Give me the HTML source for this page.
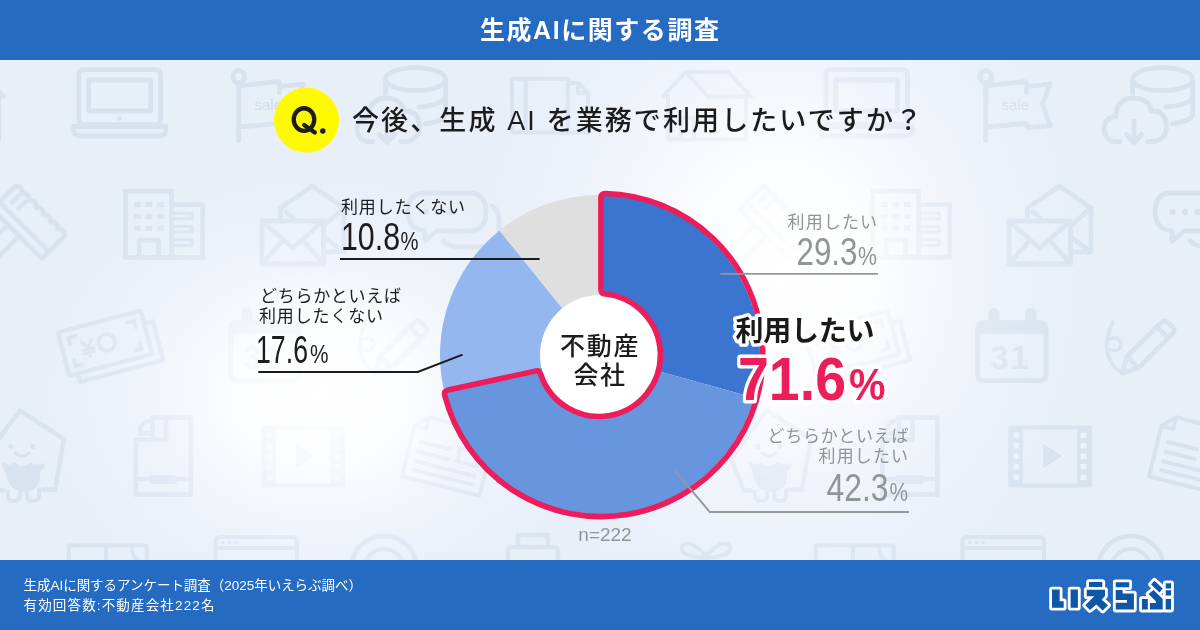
<!DOCTYPE html>
<html lang="ja"><head><meta charset="utf-8"><title>生成AIに関する調査</title>
<style>
html,body{margin:0;padding:0;background:#fff}
body{width:1200px;height:630px;overflow:hidden;font-family:"Liberation Sans","Noto Sans CJK JP",sans-serif}
svg{display:block}
</style></head><body>
<svg width="1200" height="630" viewBox="0 0 1200 630" font-family="'Liberation Sans', 'Noto Sans CJK JP', sans-serif">
<defs>
<radialGradient id="g1" cx="0" cy="0" r="1" gradientUnits="userSpaceOnUse" gradientTransform="translate(320 395) scale(290 230)"><stop offset="0" stop-color="#fff" stop-opacity="1"/><stop offset="0.3" stop-color="#fff" stop-opacity="0.86"/><stop offset="0.55" stop-color="#fff" stop-opacity="0.42"/><stop offset="0.8" stop-color="#fff" stop-opacity="0.1"/><stop offset="1" stop-color="#fff" stop-opacity="0"/></radialGradient>
<radialGradient id="g2" cx="0" cy="0" r="1" gradientUnits="userSpaceOnUse" gradientTransform="translate(780 275) scale(315 370)"><stop offset="0" stop-color="#fff" stop-opacity="1"/><stop offset="0.3" stop-color="#fff" stop-opacity="0.86"/><stop offset="0.55" stop-color="#fff" stop-opacity="0.42"/><stop offset="0.8" stop-color="#fff" stop-opacity="0.1"/><stop offset="1" stop-color="#fff" stop-opacity="0"/></radialGradient>
<radialGradient id="k1" cx="0" cy="0" r="1" gradientUnits="userSpaceOnUse" gradientTransform="translate(320 395) scale(362.5 287.5)"><stop offset="0" stop-color="#000" stop-opacity="0.95"/><stop offset="0.3" stop-color="#000" stop-opacity="0.817"/><stop offset="0.55" stop-color="#000" stop-opacity="0.399"/><stop offset="0.8" stop-color="#000" stop-opacity="0.095"/><stop offset="1" stop-color="#000" stop-opacity="0"/></radialGradient>
<radialGradient id="k2" cx="0" cy="0" r="1" gradientUnits="userSpaceOnUse" gradientTransform="translate(780 275) scale(378 444)"><stop offset="0" stop-color="#000" stop-opacity="0.95"/><stop offset="0.3" stop-color="#000" stop-opacity="0.817"/><stop offset="0.55" stop-color="#000" stop-opacity="0.399"/><stop offset="0.8" stop-color="#000" stop-opacity="0.095"/><stop offset="1" stop-color="#000" stop-opacity="0"/></radialGradient>
<mask id="im" maskUnits="userSpaceOnUse" x="0" y="0" width="1200" height="630"><rect width="1200" height="630" fill="#fff"/><rect width="1200" height="630" fill="url(#k1)"/><rect width="1200" height="630" fill="url(#k2)"/></mask>
</defs>
<rect x="0" y="0" width="1200" height="630" fill="#e8eff9"/>
<rect x="0" y="0" width="1200" height="630" fill="url(#g1)"/>
<rect x="0" y="0" width="1200" height="630" fill="url(#g2)"/>
<g id="icons" mask="url(#im)"><g transform="translate(0 0)"><path d="M84 69.7H155.5Q160.5 69.7 160.5 74.7V119.6Q160.5 124.6 155.5 124.6H84Q79 124.6 79 119.6V74.7Q79 69.7 84 69.7ZM89.6 80H149.7Q150.7 80 150.7 81V110Q150.7 111 149.7 111H89.6Q88.6 111 88.6 110V81Q88.6 80 89.6 80Z" fill="none" stroke="#d8e1ee" stroke-width="4.8" stroke-linecap="round" stroke-linejoin="round"/><path d="M73.6 126.5H165.7V130Q165.7 136 159 136H80Q73.6 136 73.6 130Z" fill="none" stroke="#d8e1ee" stroke-width="4.8" stroke-linecap="round" stroke-linejoin="round"/><circle cx="119.5" cy="118.6" r="2.4" fill="#d8e1ee"/></g>
<g transform="translate(747 0)"><path d="M84 69.7H155.5Q160.5 69.7 160.5 74.7V119.6Q160.5 124.6 155.5 124.6H84Q79 124.6 79 119.6V74.7Q79 69.7 84 69.7ZM89.6 80H149.7Q150.7 80 150.7 81V110Q150.7 111 149.7 111H89.6Q88.6 111 88.6 110V81Q88.6 80 89.6 80Z" fill="none" stroke="#d8e1ee" stroke-width="4.8" stroke-linecap="round" stroke-linejoin="round"/><path d="M73.6 126.5H165.7V130Q165.7 136 159 136H80Q73.6 136 73.6 130Z" fill="none" stroke="#d8e1ee" stroke-width="4.8" stroke-linecap="round" stroke-linejoin="round"/><circle cx="119.5" cy="118.6" r="2.4" fill="#d8e1ee"/></g>
<g transform="translate(0 0)"><path d="M985.7 84V140.5" fill="none" stroke="#d8e1ee" stroke-width="5" stroke-linecap="round" stroke-linejoin="round"/><circle cx="985.7" cy="76.7" r="5.9" fill="none" stroke="#d8e1ee" stroke-width="5"/><path d="M988 85.7L1024.4 81.6Q1026.5 81.6 1026.5 84.5V92.7M1028.5 86.4L1050.2 84.1L1042.5 103.9L1050.2 125.5L1028.5 127.6Q1027 124 1025 123.5L988 126.9" fill="none" stroke="#d8e1ee" stroke-width="4.8" stroke-linecap="round" stroke-linejoin="round"/><text x="1001.5" y="110.2" font-size="15" fill="#d3dcea">sale</text></g>
<g transform="translate(-747 0)"><path d="M985.7 84V140.5" fill="none" stroke="#d8e1ee" stroke-width="5" stroke-linecap="round" stroke-linejoin="round"/><circle cx="985.7" cy="76.7" r="5.9" fill="none" stroke="#d8e1ee" stroke-width="5"/><path d="M988 85.7L1024.4 81.6Q1026.5 81.6 1026.5 84.5V92.7M1028.5 86.4L1050.2 84.1L1042.5 103.9L1050.2 125.5L1028.5 127.6Q1027 124 1025 123.5L988 126.9" fill="none" stroke="#d8e1ee" stroke-width="4.8" stroke-linecap="round" stroke-linejoin="round"/><text x="1001.5" y="110.2" font-size="15" fill="#d3dcea">sale</text></g>
<g transform="translate(0 0)"><path d="M1132.6 79.2A30 11.5 0 1 1 1192.6 79.2A30 11.5 0 1 1 1132.6 79.2ZM1132.6 79.2V93M1192.6 79.2V114Q1192 121 1172 124M1192.6 97Q1190 105 1166 107" fill="none" stroke="#d8e1ee" stroke-width="4.8" stroke-linecap="round" stroke-linejoin="round"/><path d="M1120 141.5H1115Q1104 140 1104 128.5Q1104 118 1116 116.5Q1116 99 1133 98Q1148 98 1151.5 111Q1165.5 110.5 1166.5 125.5Q1166.5 140 1153 141.5H1148" fill="none" stroke="#d8e1ee" stroke-width="4.8" stroke-linecap="round" stroke-linejoin="round"/><path d="M1134 121V141M1126.5 134.5L1134 142.5L1141.5 134.5" fill="none" stroke="#d8e1ee" stroke-width="4.8" stroke-linecap="round" stroke-linejoin="round"/></g>
<g transform="translate(-747 0)"><path d="M1132.6 79.2A30 11.5 0 1 1 1192.6 79.2A30 11.5 0 1 1 1132.6 79.2ZM1132.6 79.2V93M1192.6 79.2V114Q1192 121 1172 124M1192.6 97Q1190 105 1166 107" fill="none" stroke="#d8e1ee" stroke-width="4.8" stroke-linecap="round" stroke-linejoin="round"/><path d="M1120 141.5H1115Q1104 140 1104 128.5Q1104 118 1116 116.5Q1116 99 1133 98Q1148 98 1151.5 111Q1165.5 110.5 1166.5 125.5Q1166.5 140 1153 141.5H1148" fill="none" stroke="#d8e1ee" stroke-width="4.8" stroke-linecap="round" stroke-linejoin="round"/><path d="M1134 121V141M1126.5 134.5L1134 142.5L1141.5 134.5" fill="none" stroke="#d8e1ee" stroke-width="4.8" stroke-linecap="round" stroke-linejoin="round"/></g>
<g transform="translate(0 0)"><path d="M514 78.7H565.8Q567.8 78.7 567.8 80.7V130.4Q567.8 132.4 565.8 132.4H514Q512 132.4 512 130.4V80.7Q512 78.7 514 78.7ZM525.6 79V132M567.8 83H578L588 93V132.4H567.8M578 83V93H588" fill="none" stroke="#d8e1ee" stroke-width="4" stroke-linecap="round" stroke-linejoin="round"/></g>
<g transform="translate(0 0)"><path d="M663 96.5L685.6 72L708 96.5M685.6 72H728L751 96.5H708M668 96V139.5H746V97M681 139V118H694V139" fill="none" stroke="#d8e1ee" stroke-width="4" stroke-linecap="round" stroke-linejoin="round"/></g>
<g transform="translate(-747 0)"><path d="M663 96.5L685.6 72L708 96.5M685.6 72H728L751 96.5H708M668 96V139.5H746V97M681 139V118H694V139" fill="none" stroke="#d8e1ee" stroke-width="4" stroke-linecap="round" stroke-linejoin="round"/></g>
<g transform="translate(0 0)"><g transform="translate(27 224) rotate(45)"><path d="M-35 14V-18q5 -6 10 0q5 -6 10 0q5 -6 10 0q5 -6 10 0q5 -6 10 0q5 -6 10 0q5 -6 10 0V14ZM-35 4H35M-26 -14V-5M-17 -14V-5M-13 14V66M3 14V66" fill="none" stroke="#d8e1ee" stroke-width="4.8" stroke-linecap="round" stroke-linejoin="round"/></g></g>
<g transform="translate(747 0)"><g transform="translate(27 224) rotate(45)"><path d="M-35 14V-18q5 -6 10 0q5 -6 10 0q5 -6 10 0q5 -6 10 0q5 -6 10 0q5 -6 10 0q5 -6 10 0V14ZM-35 4H35M-26 -14V-5M-17 -14V-5M-13 14V66M3 14V66" fill="none" stroke="#d8e1ee" stroke-width="4.8" stroke-linecap="round" stroke-linejoin="round"/></g></g>
<g transform="translate(0 0)"><path d="M125.5 191.2H171.6V257.4H125.5ZM174 204.5H202.7V257.4H171.6M139.2 257.4V240.2H158.4V257.4" fill="none" stroke="#d8e1ee" stroke-width="4.7" stroke-linecap="round" stroke-linejoin="round"/><path d="M134 202.1h6.7v5h-6.7zM145.4 202.1h6.7v5h-6.7zM157.1 202.1h6.7v5h-6.7zM134 214h6.7v5h-6.7zM145.4 214h6.7v5h-6.7zM157.1 214h6.7v5h-6.7zM134 225.7h6.7v5h-6.7zM145.4 225.7h6.7v5h-6.7zM157.1 225.7h6.7v5h-6.7z" fill="#d8e1ee"/><path d="M174 213.2H192.2V218.8H174M174 226.5H192.2V232.1H174M174 239.8H192.2V245.4H174" fill="none" stroke="#d8e1ee" stroke-width="3" stroke-linecap="round" stroke-linejoin="round"/></g>
<g transform="translate(747 0)"><path d="M125.5 191.2H171.6V257.4H125.5ZM174 204.5H202.7V257.4H171.6M139.2 257.4V240.2H158.4V257.4" fill="none" stroke="#d8e1ee" stroke-width="4.7" stroke-linecap="round" stroke-linejoin="round"/><path d="M134 202.1h6.7v5h-6.7zM145.4 202.1h6.7v5h-6.7zM157.1 202.1h6.7v5h-6.7zM134 214h6.7v5h-6.7zM145.4 214h6.7v5h-6.7zM157.1 214h6.7v5h-6.7zM134 225.7h6.7v5h-6.7zM145.4 225.7h6.7v5h-6.7zM157.1 225.7h6.7v5h-6.7z" fill="#d8e1ee"/><path d="M174 213.2H192.2V218.8H174M174 226.5H192.2V232.1H174M174 239.8H192.2V245.4H174" fill="none" stroke="#d8e1ee" stroke-width="3" stroke-linecap="round" stroke-linejoin="round"/></g>
<g transform="translate(0 0)"><path d="M1009 221H1070.5V264H1009ZM1009 221L1039.7 248L1070.5 221M1009 264L1030 240M1070.5 264L1049.5 240" fill="none" stroke="#d8e1ee" stroke-width="4.8" stroke-linecap="round" stroke-linejoin="round"/><path d="M1027.5 219V208L1059.6 186L1091 208V252H1072.5M1033 212L1041 219M1091 208L1072.5 224M1072.5 238L1089 251" fill="none" stroke="#d8e1ee" stroke-width="4.8" stroke-linecap="round" stroke-linejoin="round"/></g>
<g transform="translate(-747 0)"><path d="M1009 221H1070.5V264H1009ZM1009 221L1039.7 248L1070.5 221M1009 264L1030 240M1070.5 264L1049.5 240" fill="none" stroke="#d8e1ee" stroke-width="4.8" stroke-linecap="round" stroke-linejoin="round"/><path d="M1027.5 219V208L1059.6 186L1091 208V252H1072.5M1033 212L1041 219M1091 208L1072.5 224M1072.5 238L1089 251" fill="none" stroke="#d8e1ee" stroke-width="4.8" stroke-linecap="round" stroke-linejoin="round"/></g>
<g transform="translate(0 0)"><path d="M1172 193H1215Q1233 193 1233 212Q1233 231 1215 231H1184L1172 241V231Q1155 229 1155 212Q1155 193 1172 193Z" fill="none" stroke="#d8e1ee" stroke-width="4.8" stroke-linecap="round" stroke-linejoin="round"/><path d="M1172.5 212m-3.2 0a3.2 3.2 0 1 0 6.4 0a3.2 3.2 0 1 0 -6.4 0M1185 212m-3.2 0a3.2 3.2 0 1 0 6.4 0a3.2 3.2 0 1 0 -6.4 0M1197.5 212m-3.2 0a3.2 3.2 0 1 0 6.4 0a3.2 3.2 0 1 0 -6.4 0" fill="#d8e1ee"/><path d="M1190 241Q1196 247 1210 247H1228Q1246 247 1246 230V220Q1246 211 1239 206" fill="none" stroke="#d8e1ee" stroke-width="4.8" stroke-linecap="round" stroke-linejoin="round"/></g>
<g transform="translate(-747 0)"><path d="M1172 193H1215Q1233 193 1233 212Q1233 231 1215 231H1184L1172 241V231Q1155 229 1155 212Q1155 193 1172 193Z" fill="none" stroke="#d8e1ee" stroke-width="4.8" stroke-linecap="round" stroke-linejoin="round"/><path d="M1172.5 212m-3.2 0a3.2 3.2 0 1 0 6.4 0a3.2 3.2 0 1 0 -6.4 0M1185 212m-3.2 0a3.2 3.2 0 1 0 6.4 0a3.2 3.2 0 1 0 -6.4 0M1197.5 212m-3.2 0a3.2 3.2 0 1 0 6.4 0a3.2 3.2 0 1 0 -6.4 0" fill="#d8e1ee"/><path d="M1190 241Q1196 247 1210 247H1228Q1246 247 1246 230V220Q1246 211 1239 206" fill="none" stroke="#d8e1ee" stroke-width="4.8" stroke-linecap="round" stroke-linejoin="round"/></g>
<g transform="translate(0 0)"><g transform="translate(105 343.3) rotate(-14.7)"><path d="M-40.8 -22.5H40.8Q42.8 -22.5 42.8 -20.5V20.5Q42.8 22.5 40.8 22.5H-40.8Q-42.8 22.5 -42.8 20.5V-20.5Q-42.8 -22.5 -40.8 -22.5ZM-34 24.5V31H52V-9H45" fill="none" stroke="#d8e1ee" stroke-width="4.4" stroke-linecap="round" stroke-linejoin="round"/><path d="M-34 -8V-14.5H-27M27 -14.5H34V-8M-34 8V14.5H-27M27 14.5H34V8" fill="none" stroke="#d8e1ee" stroke-width="4" stroke-linecap="round" stroke-linejoin="round"/><circle cx="2" cy="-0.5" r="8.3" fill="none" stroke="#d8e1ee" stroke-width="3.8"/><path d="M-22.5 -7L-17.5 0.5L-12.5 -7M-17.5 0.5V8.5M-22.5 1.5H-12.5M-22.5 5H-12.5" fill="none" stroke="#d8e1ee" stroke-width="3" stroke-linecap="round" stroke-linejoin="round"/></g></g>
<g transform="translate(747 0)"><g transform="translate(105 343.3) rotate(-14.7)"><path d="M-40.8 -22.5H40.8Q42.8 -22.5 42.8 -20.5V20.5Q42.8 22.5 40.8 22.5H-40.8Q-42.8 22.5 -42.8 20.5V-20.5Q-42.8 -22.5 -40.8 -22.5ZM-34 24.5V31H52V-9H45" fill="none" stroke="#d8e1ee" stroke-width="4.4" stroke-linecap="round" stroke-linejoin="round"/><path d="M-34 -8V-14.5H-27M27 -14.5H34V-8M-34 8V14.5H-27M27 14.5H34V8" fill="none" stroke="#d8e1ee" stroke-width="4" stroke-linecap="round" stroke-linejoin="round"/><circle cx="2" cy="-0.5" r="8.3" fill="none" stroke="#d8e1ee" stroke-width="3.8"/><path d="M-22.5 -7L-17.5 0.5L-12.5 -7M-17.5 0.5V8.5M-22.5 1.5H-12.5M-22.5 5H-12.5" fill="none" stroke="#d8e1ee" stroke-width="3" stroke-linecap="round" stroke-linejoin="round"/></g></g>
<g transform="translate(0 0)"><path d="M983.7 322.7H1040Q1046 322.7 1046 328.7V374.6Q1046 380.6 1040 380.6H983.7Q977.7 380.6 977.7 374.6V328.7Q977.7 322.7 983.7 322.7Z" fill="none" stroke="#d8e1ee" stroke-width="4.8" stroke-linecap="round" stroke-linejoin="round"/><path d="M977.7 322H1046V333.7H977.7Z" fill="#d8e1ee"/><path d="M993.9 308H993.9Q999.4 308 999.4 313.5V325.5Q999.4 331 993.9 331H993.9Q988.4 331 988.4 325.5V313.5Q988.4 308 993.9 308ZM1030.9 308H1030.9Q1036.4 308 1036.4 313.5V325.5Q1036.4 331 1030.9 331H1030.9Q1025.4 331 1025.4 325.5V313.5Q1025.4 308 1030.9 308Z" fill="#d8e1ee"/><text x="990" y="368.5" font-size="34" font-weight="bold" fill="#d8e1ee" textLength="39" lengthAdjust="spacing">31</text></g>
<g transform="translate(-747 0)"><path d="M983.7 322.7H1040Q1046 322.7 1046 328.7V374.6Q1046 380.6 1040 380.6H983.7Q977.7 380.6 977.7 374.6V328.7Q977.7 322.7 983.7 322.7Z" fill="none" stroke="#d8e1ee" stroke-width="4.8" stroke-linecap="round" stroke-linejoin="round"/><path d="M977.7 322H1046V333.7H977.7Z" fill="#d8e1ee"/><path d="M993.9 308H993.9Q999.4 308 999.4 313.5V325.5Q999.4 331 993.9 331H993.9Q988.4 331 988.4 325.5V313.5Q988.4 308 993.9 308ZM1030.9 308H1030.9Q1036.4 308 1036.4 313.5V325.5Q1036.4 331 1030.9 331H1030.9Q1025.4 331 1025.4 325.5V313.5Q1025.4 308 1030.9 308Z" fill="#d8e1ee"/><text x="990" y="368.5" font-size="34" font-weight="bold" fill="#d8e1ee" textLength="39" lengthAdjust="spacing">31</text></g>
<g transform="translate(0 0)"><g transform="translate(1145.5 349.5) rotate(45)"><path d="M-8 -30Q-8 -35 -3 -35H3Q8 -35 8 -30V18L0 33L-8 18ZM-8 -24H8M-8 18H8" fill="none" stroke="#d8e1ee" stroke-width="4.8" stroke-linecap="round" stroke-linejoin="round"/></g><path d="M1113 322Q1102 345 1110 360Q1114 368 1121 372M1108 340Q1118 335 1121 343Q1122 352 1110 350" fill="none" stroke="#d8e1ee" stroke-width="3.6" stroke-linecap="round" stroke-linejoin="round"/></g>
<g transform="translate(-747 0)"><g transform="translate(1145.5 349.5) rotate(45)"><path d="M-8 -30Q-8 -35 -3 -35H3Q8 -35 8 -30V18L0 33L-8 18ZM-8 -24H8M-8 18H8" fill="none" stroke="#d8e1ee" stroke-width="4.8" stroke-linecap="round" stroke-linejoin="round"/></g><path d="M1113 322Q1102 345 1110 360Q1114 368 1121 372M1108 340Q1118 335 1121 343Q1122 352 1110 350" fill="none" stroke="#d8e1ee" stroke-width="3.6" stroke-linecap="round" stroke-linejoin="round"/></g>
<g transform="translate(0 0)"><path d="M4 490.5H-3.2L-15.8 458.8L19.6 410.5L64 439L55 489.5H43" fill="none" stroke="#d8e1ee" stroke-width="4.5" stroke-linecap="round" stroke-linejoin="round"/><path d="M11 446.6m-2.6 0a2.6 2.6 0 1 0 5.2 0a2.6 2.6 0 1 0 -5.2 0M33 446.6m-2.6 0a2.6 2.6 0 1 0 5.2 0a2.6 2.6 0 1 0 -5.2 0" fill="#d8e1ee"/><path d="M15 453Q22 459 29 453" fill="none" stroke="#d8e1ee" stroke-width="3" stroke-linecap="round" stroke-linejoin="round"/><path d="M5 470Q0 465 3 461Q10 468 14 462Q22 470 31 462Q35 467 44 463Q47 467 40 471Q42 490 25 492Q8 492 5 470Z" fill="#d8e1ee"/><path d="M8 492V496Q8 501 14 501Q20 501 20 496V492M27 492V496Q27 501 33 501Q39 501 39 496V490" fill="none" stroke="#d8e1ee" stroke-width="4" stroke-linecap="round" stroke-linejoin="round"/></g>
<g transform="translate(747 0)"><path d="M4 490.5H-3.2L-15.8 458.8L19.6 410.5L64 439L55 489.5H43" fill="none" stroke="#d8e1ee" stroke-width="4.5" stroke-linecap="round" stroke-linejoin="round"/><path d="M11 446.6m-2.6 0a2.6 2.6 0 1 0 5.2 0a2.6 2.6 0 1 0 -5.2 0M33 446.6m-2.6 0a2.6 2.6 0 1 0 5.2 0a2.6 2.6 0 1 0 -5.2 0" fill="#d8e1ee"/><path d="M15 453Q22 459 29 453" fill="none" stroke="#d8e1ee" stroke-width="3" stroke-linecap="round" stroke-linejoin="round"/><path d="M5 470Q0 465 3 461Q10 468 14 462Q22 470 31 462Q35 467 44 463Q47 467 40 471Q42 490 25 492Q8 492 5 470Z" fill="#d8e1ee"/><path d="M8 492V496Q8 501 14 501Q20 501 20 496V492M27 492V496Q27 501 33 501Q39 501 39 496V490" fill="none" stroke="#d8e1ee" stroke-width="4" stroke-linecap="round" stroke-linejoin="round"/></g>
<g transform="translate(0 0)"><path d="M152.5 417.7H190.9V494.7H135.9V439.5H166V417.7M152.5 417.7V439.5M139.5 433.5Q139.5 421 152.5 420.5M139.5 433.5H152.5M135.9 479H190.9" fill="none" stroke="#d8e1ee" stroke-width="4.7" stroke-linecap="round" stroke-linejoin="round"/><path d="M152.5 476.5H174Q176 476.5 176 478.5V480.5Q176 482.5 174 482.5H152.5Q150.5 482.5 150.5 480.5V478.5Q150.5 476.5 152.5 476.5Z" fill="none" stroke="#d8e1ee" stroke-width="3" stroke-linecap="round" stroke-linejoin="round"/></g>
<g transform="translate(746.5 0)"><path d="M152.5 417.7H190.9V494.7H135.9V439.5H166V417.7M152.5 417.7V439.5M139.5 433.5Q139.5 421 152.5 420.5M139.5 433.5H152.5M135.9 479H190.9" fill="none" stroke="#d8e1ee" stroke-width="4.7" stroke-linecap="round" stroke-linejoin="round"/><path d="M152.5 476.5H174Q176 476.5 176 478.5V480.5Q176 482.5 174 482.5H152.5Q150.5 482.5 150.5 480.5V478.5Q150.5 476.5 152.5 476.5Z" fill="none" stroke="#d8e1ee" stroke-width="3" stroke-linecap="round" stroke-linejoin="round"/></g>
<g transform="translate(0 0)"><path d="M1010.2 427.5H1090V485.4H1010.2Z" fill="none" stroke="#d8e1ee" stroke-width="4" stroke-linecap="round" stroke-linejoin="round"/><path d="M1010.2 427.5H1023V485.4H1010.2ZM1077.2 427.5H1090V485.4H1077.2Z" fill="#d8e1ee"/><path d="M1013.6 432.5h5.6v5.4h-5.6zM1080.8 432.5h5.6v5.4h-5.6zM1013.6 443h5.6v5.4h-5.6zM1080.8 443h5.6v5.4h-5.6zM1013.6 453.5h5.6v5.4h-5.6zM1080.8 453.5h5.6v5.4h-5.6zM1013.6 464h5.6v5.4h-5.6zM1080.8 464h5.6v5.4h-5.6zM1013.6 474.5h5.6v5.4h-5.6zM1080.8 474.5h5.6v5.4h-5.6z" fill="#edf2fa"/><path d="M1043 443.5V468.5L1062 456Z" fill="#d8e1ee"/></g>
<g transform="translate(-747 0)"><path d="M1010.2 427.5H1090V485.4H1010.2Z" fill="none" stroke="#d8e1ee" stroke-width="4" stroke-linecap="round" stroke-linejoin="round"/><path d="M1010.2 427.5H1023V485.4H1010.2ZM1077.2 427.5H1090V485.4H1077.2Z" fill="#d8e1ee"/><path d="M1013.6 432.5h5.6v5.4h-5.6zM1080.8 432.5h5.6v5.4h-5.6zM1013.6 443h5.6v5.4h-5.6zM1080.8 443h5.6v5.4h-5.6zM1013.6 453.5h5.6v5.4h-5.6zM1080.8 453.5h5.6v5.4h-5.6zM1013.6 464h5.6v5.4h-5.6zM1080.8 464h5.6v5.4h-5.6zM1013.6 474.5h5.6v5.4h-5.6zM1080.8 474.5h5.6v5.4h-5.6z" fill="#edf2fa"/><path d="M1043 443.5V468.5L1062 456Z" fill="#d8e1ee"/></g>
<g transform="translate(0 0)"><g transform="translate(1195 457) rotate(14)"><path d="M-40 -22L-28 -34H40V30H-40ZM-40 -22H-28V-34M-30 -8H0M-30 2H0M-30 12H30M-30 21H30M10 -12H30V2H10Z" fill="none" stroke="#d8e1ee" stroke-width="4" stroke-linecap="round" stroke-linejoin="round"/></g></g>
<g transform="translate(-747 0)"><g transform="translate(1195 457) rotate(14)"><path d="M-40 -22L-28 -34H40V30H-40ZM-40 -22H-28V-34M-30 -8H0M-30 2H0M-30 12H30M-30 21H30M10 -12H30V2H10Z" fill="none" stroke="#d8e1ee" stroke-width="4" stroke-linecap="round" stroke-linejoin="round"/></g></g>
<g transform="translate(0 0)"><path d="M68.8 562V545.6H146.8V562M106 545.6V562M132 548Q132 556 138 560" fill="none" stroke="#d8e1ee" stroke-width="4" stroke-linecap="round" stroke-linejoin="round"/><path d="M220.5 537H292Q297 537 297 542V570Q297 575 292 575H220.5Q215.5 575 215.5 570V542Q215.5 537 220.5 537ZM215.5 548H297" fill="none" stroke="#d8e1ee" stroke-width="4" stroke-linecap="round" stroke-linejoin="round"/><path d="M223 542.5m-1.8 0a1.8 1.8 0 1 0 3.6 0a1.8 1.8 0 1 0 -3.6 0M229.5 542.5m-1.8 0a1.8 1.8 0 1 0 3.6 0a1.8 1.8 0 1 0 -3.6 0M236 542.5m-1.8 0a1.8 1.8 0 1 0 3.6 0a1.8 1.8 0 1 0 -3.6 0" fill="#d8e1ee"/><circle cx="384" cy="569" r="33" fill="none" stroke="#d8e1ee" stroke-width="4.5"/><circle cx="384" cy="569" r="20" fill="none" stroke="#d8e1ee" stroke-width="4"/></g>
<g transform="translate(747 0)"><path d="M68.8 562V545.6H146.8V562M106 545.6V562M132 548Q132 556 138 560" fill="none" stroke="#d8e1ee" stroke-width="4" stroke-linecap="round" stroke-linejoin="round"/><path d="M220.5 537H292Q297 537 297 542V570Q297 575 292 575H220.5Q215.5 575 215.5 570V542Q215.5 537 220.5 537ZM215.5 548H297" fill="none" stroke="#d8e1ee" stroke-width="4" stroke-linecap="round" stroke-linejoin="round"/><path d="M223 542.5m-1.8 0a1.8 1.8 0 1 0 3.6 0a1.8 1.8 0 1 0 -3.6 0M229.5 542.5m-1.8 0a1.8 1.8 0 1 0 3.6 0a1.8 1.8 0 1 0 -3.6 0M236 542.5m-1.8 0a1.8 1.8 0 1 0 3.6 0a1.8 1.8 0 1 0 -3.6 0" fill="#d8e1ee"/><circle cx="384" cy="569" r="33" fill="none" stroke="#d8e1ee" stroke-width="4.5"/><circle cx="384" cy="569" r="20" fill="none" stroke="#d8e1ee" stroke-width="4"/></g>
<g transform="translate(0 0)"><path d="M508 562V552Q508 547 513 547H553Q558 547 558 552V562M518 547V535H548V547" fill="none" stroke="#d8e1ee" stroke-width="4.5" stroke-linecap="round" stroke-linejoin="round"/><path d="M706 556Q690 538 682 546Q678 556 706 558Q734 556 730 546Q722 538 706 556" fill="none" stroke="#d8e1ee" stroke-width="4" stroke-linecap="round" stroke-linejoin="round"/></g></g>
<rect x="0" y="0" width="1200" height="60" fill="#246bc1"/>
<rect x="0" y="560" width="1200" height="70" fill="#246bc1"/>
<text x="480" y="39.3" font-size="25" font-weight="bold" fill="#fff" textLength="239" lengthAdjust="spacing">生成AIに関する調査</text>
<circle cx="306.5" cy="120.2" r="32.5" fill="#fffa00"/>
<g fill="none" stroke="#1e1e1e" stroke-width="4.3" stroke-linecap="round"><ellipse cx="304" cy="119.55" rx="10.25" ry="11.3"/><path d="M304.2 125L314.8 132.4"/></g><circle cx="322.8" cy="131.1" r="2.75" fill="#1e1e1e"/>
<text x="352" y="129.5" font-size="27" font-weight="500" fill="#1c1c1c" textLength="570" lengthAdjust="spacing">今後、生成 AI を業務で利用したいですか？</text>
<path d="M600.00 355.00L600.00 195.00A160 160 0 0 1 754.20 397.70Z" fill="#3c75cf"/>
<path d="M600.00 355.00L754.20 397.70A160 160 0 0 1 443.64 388.92Z" fill="#6795de"/>
<path d="M600.00 355.00L443.64 388.92A160 160 0 0 1 499.57 230.45Z" fill="#95b7ef"/>
<path d="M600.00 355.00L499.57 230.45A160 160 0 0 1 600.00 195.00Z" fill="#dfdfdf"/>
<circle cx="600" cy="355" r="60" fill="#fff"/>
<path d="M600.90 197.90Q600.90 193.40 605.40 193.45A161.6 161.6 0 1 1 444.72 395.34Q443.65 390.96 448.05 390.01L535.11 371.12Q539.50 370.17 540.77 374.49A61.4 61.4 0 1 0 605.39 293.93Q600.90 293.63 600.90 289.13Z" fill="none" stroke="#ec1d5a" stroke-width="5.6" stroke-linejoin="round"/>
<path d="M340 259H539.6" stroke="#1a1a1a" stroke-width="2" fill="none"/>
<path d="M258.3 372H417.8L462.6 354.6" stroke="#1a1a1a" stroke-width="2" fill="none"/>
<path d="M720.3 273.9H878" stroke="#939898" stroke-width="1.9" fill="none"/>
<path d="M674.7 470.3L709.8 512H909" stroke="#939898" stroke-width="1.9" fill="none"/>
<text x="341" y="212.5" font-size="17" fill="#1c1c1c" textLength="124" lengthAdjust="spacing">利用したくない</text>
<text x="260" y="302.3" font-size="17" fill="#1c1c1c" textLength="141" lengthAdjust="spacing">どちらかといえば</text>
<text x="259" y="322.2" font-size="17" fill="#1c1c1c" textLength="124" lengthAdjust="spacing">利用したくない</text>
<text x="341" y="250.1" font-size="38" fill="#1c1c1c" textLength="59" lengthAdjust="spacingAndGlyphs">10.8</text>
<text x="400.5" y="250.1" font-size="26" fill="#1c1c1c" textLength="18" lengthAdjust="spacingAndGlyphs">%</text>
<text x="256" y="362.9" font-size="38" fill="#1c1c1c" textLength="52" lengthAdjust="spacingAndGlyphs">17.6</text>
<text x="310" y="362.9" font-size="26" fill="#1c1c1c" textLength="18.5" lengthAdjust="spacingAndGlyphs">%</text>
<text x="787.5" y="227.7" font-size="17" fill="#909595" textLength="89.5" lengthAdjust="spacing">利用したい</text>
<text x="767.5" y="441.7" font-size="17" fill="#909595" textLength="141" lengthAdjust="spacing">どちらかといえば</text>
<text x="818.5" y="462.4" font-size="17" fill="#909595" textLength="89.5" lengthAdjust="spacing">利用したい</text>
<text x="796.5" y="264.8" font-size="38" fill="#909595" textLength="61" lengthAdjust="spacingAndGlyphs">29.3</text>
<text x="858" y="264.8" font-size="26" fill="#909595" textLength="19" lengthAdjust="spacingAndGlyphs">%</text>
<text x="826.5" y="500.8" font-size="38" fill="#909595" textLength="62" lengthAdjust="spacingAndGlyphs">42.3</text>
<text x="889.5" y="500.8" font-size="26" fill="#909595" textLength="18.5" lengthAdjust="spacingAndGlyphs">%</text>
<text x="605" y="541" font-size="19" fill="#909595" text-anchor="middle">n=222</text>
<text x="735.5" y="341" font-size="28" font-weight="bold" fill="#1a1a1a" stroke="#fff" stroke-width="6.8" stroke-linejoin="round" paint-order="stroke" textLength="139" lengthAdjust="spacing">利用したい</text>
<text x="738" y="399.9" font-size="61" font-weight="bold" fill="#ec1d5a" stroke="#fff" stroke-width="7" stroke-linejoin="round" paint-order="stroke" textLength="108" lengthAdjust="spacingAndGlyphs">71.6</text>
<text x="849" y="399.9" font-size="44" font-weight="bold" fill="#ec1d5a" stroke="#fff" stroke-width="7" stroke-linejoin="round" paint-order="stroke" textLength="36.5" lengthAdjust="spacingAndGlyphs">%</text>
<text x="560" y="355" font-size="25" font-weight="500" fill="#1c1c1c" textLength="78.5" lengthAdjust="spacing">不動産</text>
<text x="573.5" y="383.6" font-size="25" font-weight="500" fill="#1c1c1c" textLength="51.5" lengthAdjust="spacing">会社</text>
<text x="23.5" y="590.2" font-size="13.5" fill="#fff" textLength="338.5" lengthAdjust="spacing">生成AIに関するアンケート調査（2025年いえらぶ調べ）</text>
<text x="23.5" y="610.3" font-size="13.5" fill="#fff" textLength="191" lengthAdjust="spacing">有効回答数:不動産会社222名</text>
<path d="M1052.0 589.5L1059.7 589.5L1059.7 601.2L1063.7 601.2L1063.7 607.8L1052.0 607.8ZM1070.6 589.5L1077.9 589.5L1077.9 607.8L1070.6 607.8ZM1089.0 582.0L1102.3 582.0L1102.3 587.0L1089.0 587.0ZM1086.7 589.7L1105.0 589.7L1105.0 596.0L1101.7 599.7L1108.0 605.2L1102.7 610.5L1096.3 604.5L1090.0 609.9L1085.3 605.2L1094.3 596.3L1086.7 596.3ZM1115.7 582.2L1129.2 582.2L1129.2 587.3L1115.7 587.3ZM1115.7 589.9L1122.6 589.9L1122.6 593.5L1133.9 593.5L1133.9 609.6L1115.7 609.6L1115.7 602.7L1127.0 602.7L1127.0 600.1L1115.7 600.1ZM1141.9 599.0L1147.8 599.0L1147.8 609.6L1141.9 609.6ZM1153.6 589.9L1162.7 599.0L1162.7 609.6L1150.0 609.6L1150.0 603.0L1155.8 603.0L1155.8 601.2L1148.5 593.9ZM1154.4 580.8L1162.7 588.4L1159.5 592.4L1151.1 584.4ZM1165.7 583.3L1171.1 583.3L1171.1 588.4L1165.7 588.4ZM1165.7 590.2L1171.1 590.2L1171.1 595.4L1165.7 595.4ZM1165.7 599.0L1171.1 599.0L1171.1 609.6L1165.7 609.6Z" fill="#fff" stroke="#fff" stroke-width="5.6" stroke-linejoin="round"/>
<path d="M1052.0 589.5L1059.7 589.5L1059.7 601.2L1063.7 601.2L1063.7 607.8L1052.0 607.8ZM1070.6 589.5L1077.9 589.5L1077.9 607.8L1070.6 607.8ZM1089.0 582.0L1102.3 582.0L1102.3 587.0L1089.0 587.0ZM1086.7 589.7L1105.0 589.7L1105.0 596.0L1101.7 599.7L1108.0 605.2L1102.7 610.5L1096.3 604.5L1090.0 609.9L1085.3 605.2L1094.3 596.3L1086.7 596.3ZM1115.7 582.2L1129.2 582.2L1129.2 587.3L1115.7 587.3ZM1115.7 589.9L1122.6 589.9L1122.6 593.5L1133.9 593.5L1133.9 609.6L1115.7 609.6L1115.7 602.7L1127.0 602.7L1127.0 600.1L1115.7 600.1ZM1141.9 599.0L1147.8 599.0L1147.8 609.6L1141.9 609.6ZM1153.6 589.9L1162.7 599.0L1162.7 609.6L1150.0 609.6L1150.0 603.0L1155.8 603.0L1155.8 601.2L1148.5 593.9ZM1154.4 580.8L1162.7 588.4L1159.5 592.4L1151.1 584.4ZM1165.7 583.3L1171.1 583.3L1171.1 588.4L1165.7 588.4ZM1165.7 590.2L1171.1 590.2L1171.1 595.4L1165.7 595.4ZM1165.7 599.0L1171.1 599.0L1171.1 609.6L1165.7 609.6Z" fill="#0d57a6"/>
</svg>
</body></html>
